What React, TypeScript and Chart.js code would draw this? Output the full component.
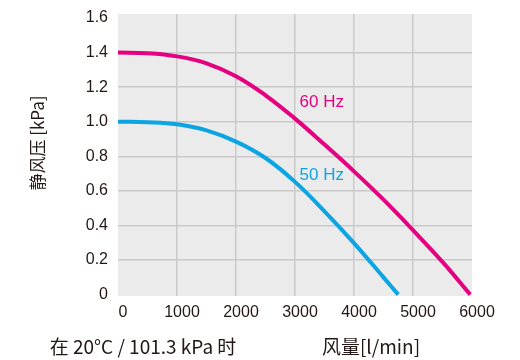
import React, { useEffect, useRef } from "react";
import { Chart, registerables } from "chart.js";

Chart.register(...registerables);

const flow60 = [0, 500, 1000, 1500, 2000, 2500, 3000, 3500, 4000, 4500, 5000, 5500, 5970];
const pressure60 = [1.4, 1.396, 1.378, 1.338, 1.263, 1.153, 1.018, 0.868, 0.713, 0.549, 0.373, 0.189, 0];
const flow50 = [0, 500, 1000, 1500, 2000, 2500, 3000, 3500, 4000, 4500, 4750];
const pressure50 = [1.0, 0.997, 0.985, 0.95, 0.885, 0.79, 0.652, 0.482, 0.298, 0.1, 0];

const yTicks = [0, 0.2, 0.4, 0.6, 0.8, 1.0, 1.2, 1.4, 1.6];
const xTicks = [0, 1000, 2000, 3000, 4000, 5000, 6000];

const label60 = { text: "60 Hz", x: 3077, y: 1.11 };
const label50 = { text: "50 Hz", x: 3077, y: 0.692 };

const yTitle = "静风压 [kPa]";
const xTitle = "风量[l/min]";
const noteText = "在 20°C / 101.3 kPa 时";

const MAGENTA = "#e4007f";
const BLUE = "#0aa5e2";
const TEXT = "#231815";
const CJK = "'Noto Sans CJK SC', 'Noto Sans', sans-serif";
const LATIN = "'Liberation Sans', Arial, sans-serif";

const decor = {
  id: "decor",
  beforeDraw(chart: any) {
    const { ctx, chartArea: a } = chart;
    ctx.save();
    ctx.fillStyle = "#ebebeb";
    ctx.fillRect(a.left, a.top, a.right - a.left, a.bottom - a.top);
    ctx.restore();
  },
  afterDraw(chart: any) {
    const { ctx, scales } = chart;
    const xs = scales.x;
    const ys = scales.y;
    ctx.save();
    ctx.textBaseline = "middle";
    ctx.font = `17px ${LATIN}`;
    ctx.textAlign = "left";
    ctx.fillStyle = MAGENTA;
    ctx.fillText(label60.text, xs.getPixelForValue(label60.x), ys.getPixelForValue(label60.y));
    ctx.fillStyle = BLUE;
    ctx.fillText(label50.text, xs.getPixelForValue(label50.x), ys.getPixelForValue(label50.y));

    ctx.fillStyle = TEXT;
    ctx.font = `19px ${CJK}`;
    ctx.textAlign = "center";
    ctx.fillText(noteText, 143, 347);
    ctx.fillText(xTitle, 371, 347);

    ctx.font = `17px ${CJK}`;
    ctx.translate(38, 143);
    ctx.rotate(-Math.PI / 2);
    ctx.fillText(yTitle, 0, 0);
    ctx.restore();
  },
};

export default function App() {
  const ref = useRef<HTMLCanvasElement>(null);
  useEffect(() => {
    if (!ref.current) return;
    const chart = new Chart(ref.current, {
      type: "line",
      data: {
        datasets: [
          {
            label: "60 Hz",
            data: flow60.map((x, i) => ({ x, y: pressure60[i] })),
            borderColor: MAGENTA,
            borderWidth: 4,
            pointRadius: 0,
            tension: 0.4,
          },
          {
            label: "50 Hz",
            data: flow50.map((x, i) => ({ x, y: pressure50[i] })),
            borderColor: BLUE,
            borderWidth: 4,
            pointRadius: 0,
            tension: 0.4,
          },
        ],
      },
      options: {
        responsive: false,
        animation: false,
        layout: { padding: { left: 0, top: 14, right: 48, bottom: 0 } },
        plugins: { legend: { display: false }, tooltip: { enabled: false } },
        scales: {
          x: {
            type: "linear",
            min: 0,
            max: 6000,
            afterFit(s: any) {
              s.height = 64;
            },
            afterBuildTicks(s: any) {
              s.ticks = xTicks.map((v) => ({ value: v }));
            },
            border: { display: false },
            grid: {
              drawTicks: false,
              lineWidth: 1.5,
              color: (c: any) =>
                c.tick && (c.tick.value === 0 || c.tick.value === 6000) ? "rgba(0,0,0,0)" : "#c9c9c9",
            },
            ticks: {
              padding: 7,
              labelOffset: 5,
              color: TEXT,
              font: { family: LATIN, size: 16 },
              maxRotation: 0,
              callback: (v: any) => String(v),
            },
          },
          y: {
            type: "linear",
            min: -0.008,
            max: 1.623,
            afterFit(s: any) {
              s.width = 118;
              s.paddingTop = 0;
              s.paddingBottom = 0;
            },
            afterBuildTicks(s: any) {
              s.ticks = yTicks.map((v) => ({ value: v }));
            },
            border: { display: false },
            grid: {
              drawTicks: false,
              lineWidth: 1.5,
              color: (c: any) =>
                c.tick && (c.tick.value === 0 || c.tick.value === 1.6) ? "rgba(0,0,0,0)" : "#c9c9c9",
            },
            ticks: {
              padding: 10,
              color: TEXT,
              font: { family: LATIN, size: 16 },
              callback: (v: any) => (v === 0 ? "0" : Number(v).toFixed(1)),
            },
          },
        },
      },
      plugins: [decor],
    });
    return () => chart.destroy();
  }, []);
  return (
    <div style={{ position: "fixed", left: 0, top: 0, width: 520, height: 360, background: "#fff" }}>
      <canvas ref={ref} width={520} height={360} style={{ width: 520, height: 360 }} />
    </div>
  );
}
